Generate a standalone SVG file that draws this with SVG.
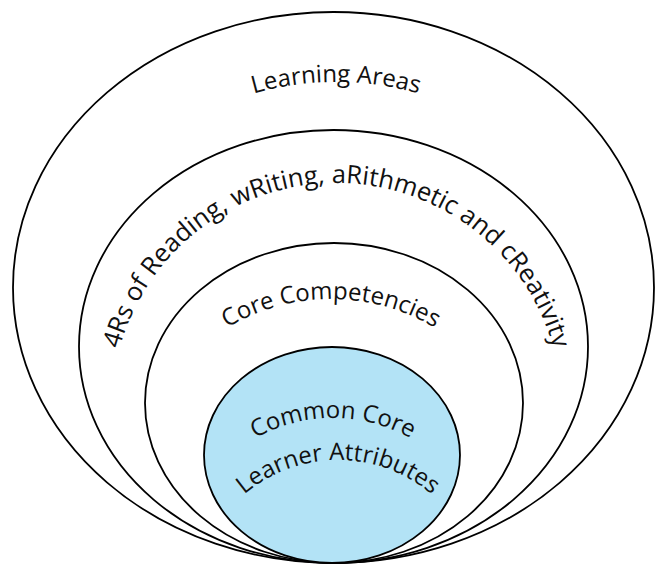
<svg xmlns="http://www.w3.org/2000/svg" xmlns:xlink="http://www.w3.org/1999/xlink" width="656" height="565" viewBox="0 0 656 565">
  <style>
    .ring { fill: #ffffff; stroke: #000000; stroke-width: 1.8; }
    .core { fill: #b3e3f6; stroke: #000000; stroke-width: 1.8; }
    .lbl { font-family: "Open Sans", "Noto Sans", "Liberation Sans", sans-serif; font-size: 24px; fill: #111111; }
    .big { font-size: 25.5px; }
  </style>
  <defs>
    <path id="p-learning" d="M 86,289 A 250 207 0 0 1 586,289"/>
    <path id="p-4rs" d="M 111.5,408 A 225 225 0 0 1 561.5,408"/>
    <path id="p-core" d="M 129,501 A 202 202 0 0 1 533,501"/>
    <path id="p-common" d="M 175,576 A 158 158 0 0 1 491,576"/>
    <path id="p-learner" d="M 193,605 A 145 145 0 0 1 483,605"/>
  </defs>
  <rect width="656" height="565" fill="#ffffff"/>
  <g id="learning-areas">
    <ellipse class="ring" cx="333.5" cy="287.5" rx="320.5" ry="275.5"/>
    <text class="lbl"><textPath xlink:href="#p-learning" href="#p-learning" startOffset="50%" text-anchor="middle">Learning Areas</textPath></text>
  </g>
  <g id="four-rs">
    <ellipse class="ring" cx="333.5" cy="346.5" rx="254.5" ry="216.5"/>
    <text class="lbl big"><textPath xlink:href="#p-4rs" href="#p-4rs" startOffset="50%" text-anchor="middle">4Rs of Reading, wRiting, aRithmetic and cReativity</textPath></text>
  </g>
  <g id="core-competencies">
    <ellipse class="ring" cx="334" cy="403" rx="189" ry="160"/>
    <text class="lbl"><textPath xlink:href="#p-core" href="#p-core" startOffset="50%" text-anchor="middle">Core Competencies</textPath></text>
  </g>
  <g id="common-core-learner-attributes">
    <ellipse class="core" cx="332" cy="455" rx="128" ry="108"/>
    <text class="lbl"><textPath xlink:href="#p-common" href="#p-common" startOffset="50%" text-anchor="middle">Common Core</textPath></text>
    <text class="lbl"><textPath xlink:href="#p-learner" href="#p-learner" startOffset="50%" text-anchor="middle">Learner Attributes</textPath></text>
  </g>
  <g id="connectors"/>
</svg>
